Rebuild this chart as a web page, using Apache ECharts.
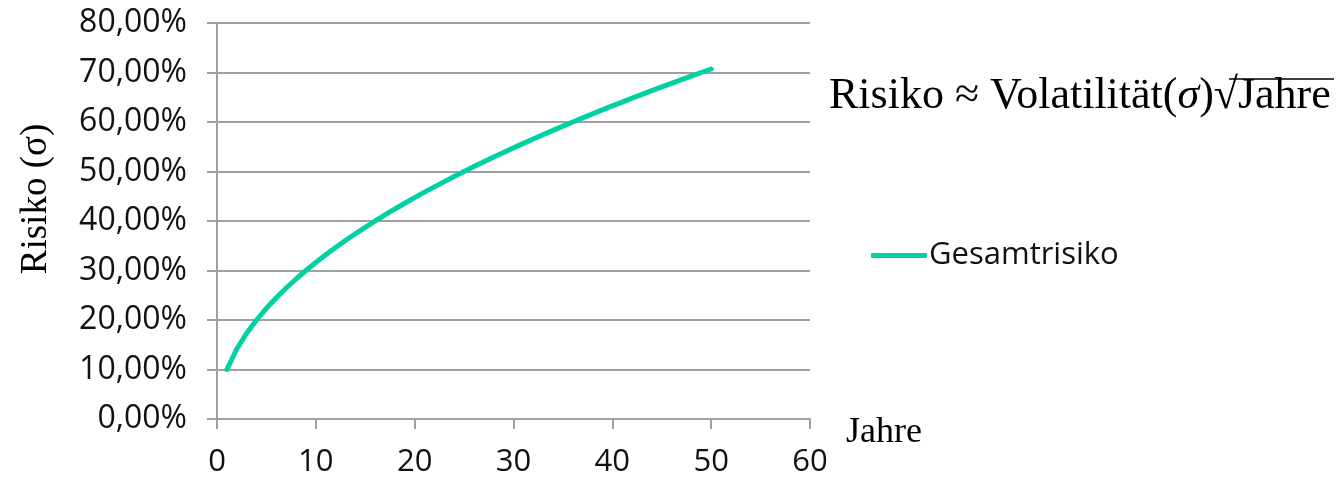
<!DOCTYPE html>
<html>
<head>
<meta charset="utf-8">
<script src="https://cdn.jsdelivr.net/npm/echarts@6/dist/echarts.min.js"></script>
<style>html,body{margin:0;padding:0;background:#fff;}#c{width:1340px;height:482px;}</style>
</head>
<body>
<div id="c"></div>
<script>
const years = [1,2,3,4,5,6,7,8,9,10,11,12,13,14,15,16,17,18,19,20,21,22,23,24,25,26,27,28,29,30,31,32,33,34,35,36,37,38,39,40,41,42,43,44,45,46,47,48,49,50];
const risk = [10.00,14.14,17.32,20.00,22.36,24.49,26.46,28.28,30.00,31.62,33.17,34.64,36.06,37.42,38.73,40.00,41.23,42.43,43.59,44.72,45.83,46.90,47.96,48.99,50.00,50.99,51.96,52.92,53.85,54.77,55.68,56.57,57.45,58.31,59.16,60.00,60.83,61.64,62.45,63.25,64.03,64.81,65.57,66.33,67.08,67.82,68.56,69.28,70.00,70.71];
const seriesName = 'Gesamtrisiko';
const xAxisName = 'Jahre';
const yAxisName = 'Risiko (σ)';

const TEAL = '#00d1a1';
const GRAY = '#a0a0a0';
const SANS = '"Open Sans", "Noto Sans", sans-serif';
const SERIF = '"Liberation Serif", "DejaVu Serif", serif';

const chart = echarts.init(document.getElementById('c'), null, {renderer: 'canvas'});
chart.setOption({
  animation: false,
  backgroundColor: '#fff',
  grid: {left: 217, right: 530, top: 23, bottom: 63, containLabel: false},
  legend: {
    data: [{name: seriesName, icon: 'roundRect'}],
    left: 866, top: 235,
    itemWidth: 56, itemHeight: 5, itemGap: 0,
    textStyle: {fontFamily: SANS, fontSize: 31, color: '#111', padding: [0,0,0,-3]}
  },
  xAxis: {
    type: 'value', min: 0, max: 60, interval: 10,
    name: xAxisName, nameLocation: 'end', nameGap: 36,
    nameTextStyle: {fontFamily: SERIF, fontSize: 36, color: '#000', align: 'left', verticalAlign: 'top', padding: [-4,0,0,0]},
    axisLine: {show: true, lineStyle: {color: GRAY, width: 2}},
    axisTick: {show: true, length: 10, lineStyle: {color: GRAY, width: 2}},
    axisLabel: {fontFamily: SANS, fontSize: 31, color: '#111', margin: 28},
    splitLine: {show: false}
  },
  yAxis: {
    type: 'value', min: 0, max: 80, interval: 10,
    axisLine: {show: true, lineStyle: {color: GRAY, width: 2}},
    axisTick: {show: true, length: 10, lineStyle: {color: GRAY, width: 2}},
    axisLabel: {fontFamily: SANS, fontSize: 32, color: '#111', margin: 30,
      formatter: v => v.toFixed(2).replace('.', ',') + '%'},
    splitLine: {show: true, lineStyle: {color: GRAY, width: 2}}
  },
  series: [{
    name: seriesName, type: 'line', showSymbol: false, symbol: 'none',
    data: years.map((y, i) => [y, risk[i]]),
    lineStyle: {color: TEAL, width: 5, cap: 'round'},
    itemStyle: {color: TEAL}
  }],
  graphic: [{
    type: 'text', x: 36, y: 199, rotation: Math.PI / 2,
    style: {text: yAxisName, fontFamily: SERIF, fontSize: 37, fill: '#000', align: 'center', verticalAlign: 'middle'}
  }, {
    type: 'text', left: 829, top: 74,
    style: {
      rich: {
        n: {fontFamily: SERIF, fontSize: 44, fill: '#000'},
        s: {fontFamily: SERIF, fontSize: 44, fontStyle: 'italic', fill: '#000'}
      },
      text: '{n|Risiko ≈ Volatilität(}{s|σ}{n|)√Jahre}'
    }
  }, {
    type: 'line', shape: {x1: 1229, y1: 79, x2: 1334, y2: 79},
    style: {stroke: '#000', lineWidth: 1.5}
  }]
});
</script>
</body>
</html>
